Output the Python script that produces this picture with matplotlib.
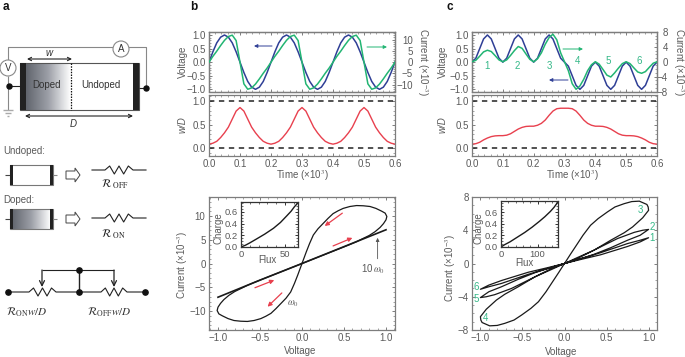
"""
memristor figure: device sketch (a) and simulated curves (b, c).
"""
import numpy as np
import matplotlib
matplotlib.use("Agg")
import matplotlib.pyplot as plt
from matplotlib.patches import Circle, Polygon, Rectangle

plt.rcParams["font.family"] = ["Liberation Sans", "DejaVu Sans"]
plt.rcParams["mathtext.fontset"] = "stix"

W, H = 685, 357
GREY = "#5a5a5a"
FRAME = "#7d7d7d"
BLUE = "#2f3f96"
GREEN = "#22b573"
RED = "#e8404e"
NUMC = "#35b888"

# ── Data ─────────────────────────────────────────────────────────────────────
time = [0.0, 0.0125, 0.025, 0.0375, 0.05, 0.0625, 0.075, 0.0875,
        0.1, 0.1125, 0.125, 0.1375, 0.15, 0.1625, 0.175, 0.1875,
        0.2, 0.2125, 0.225, 0.2375, 0.25, 0.2625, 0.275, 0.2875,
        0.3, 0.3125, 0.325, 0.3375, 0.35, 0.3625, 0.375, 0.3875,
        0.4, 0.4125, 0.425, 0.4375, 0.45, 0.4625, 0.475, 0.4875,
        0.5, 0.5125, 0.525, 0.5375, 0.55, 0.5625, 0.575, 0.5875, 0.6]

b_voltage = [0, .38, .71, .92, 1, .92, .71, .38,
             0, -.38, -.71, -.92, -1, -.92, -.71, -.38,
             0, .38, .71, .92, 1, .92, .71, .38,
             0, -.38, -.71, -.92, -1, -.92, -.71, -.38,
             0, .38, .71, .92, 1, .92, .71, .38,
             0, -.38, -.71, -.92, -1, -.92, -.71, -.38, 0]
b_current = [0, 2.6, 4.9, 7.4, 9.7, 11.4, 12, 9.6,
             0, -9.6, -12, -11.4, -9.7, -7.4, -4.9, -2.6,
             0, 2.6, 4.9, 7.4, 9.7, 11.4, 12, 9.6,
             0, -9.6, -12, -11.4, -9.7, -7.4, -4.9, -2.6,
             0, 2.6, 4.9, 7.4, 9.7, 11.4, 12, 9.6,
             0, -9.6, -12, -11.4, -9.7, -7.4, -4.9, -2.6, 0]
b_wd = [.09, .11, .15, .23, .33, .45, .62, .79,
        .865, .79, .62, .45, .33, .23, .15, .11,
        .09, .11, .15, .23, .33, .45, .62, .79,
        .865, .79, .62, .45, .33, .23, .15, .11,
        .09, .11, .15, .23, .33, .45, .62, .79,
        .865, .79, .62, .45, .33, .23, .15, .11, .09]

c_voltage = [0, .146, .5, .854, 1, .854, .5, .146,
             0, .146, .5, .854, 1, .854, .5, .146,
             0, .146, .5, .854, 1, .854, .5, .146,
             0, -.146, -.5, -.854, -1, -.854, -.5, -.146,
             0, -.146, -.5, -.854, -1, -.854, -.5, -.146,
             0, -.146, -.5, -.854, -1, -.854, -.5, -.146, 0]
c_current = [0, .4, 1.5, 2.65, 3.1, 2.75, 1.65, .5,
             0, .5, 1.7, 3.0, 4.1, 3.6, 2.1, .65,
             0, .8, 2.4, 4.7, 6.5, 7.4, 5.9, 2.4,
             0, -2.4, -5.9, -7.4, -6.5, -4.7, -2.4, -.8,
             0, -.65, -2.1, -3.6, -4.1, -3.0, -1.7, -.5,
             0, -.5, -1.65, -2.75, -3.1, -2.65, -1.5, -.4, 0]
c_wd = [.09, .10, .13, .18, .22, .25, .265, .27,
        .27, .28, .31, .36, .41, .445, .465, .47,
        .47, .49, .53, .60, .70, .79, .84, .85,
        .85, .85, .84, .79, .70, .60, .53, .49,
        .47, .47, .465, .445, .41, .36, .31, .28,
        .27, .27, .265, .25, .22, .18, .13, .10, .09]

# I-V loop at w0 (panel b)
b_loop_v = [0, .1, .2, .3, .4, .5, .57, .65, .73, .8, .87, .93, .97, 1.0, 1.01, .99, .95, .88, .81, .73, .65,
            .57, .49, .43, .37, .31, .25, .19, .135, .09, .05, 0,
            -.1, -.2, -.3, -.4, -.5, -.57, -.65, -.73, -.8, -.87, -.93, -.97, -1.0, -1.01, -.99, -.95, -.88, -.81, -.73, -.65,
            -.57, -.49, -.43, -.37, -.31, -.25, -.19, -.135, -.09, -.05, 0]
b_loop_i = [0, .7, 1.4, 2.1, 2.8, 3.5, 4.0, 4.6, 5.3, 5.9, 6.7, 7.6, 8.4, 9.2, 9.9, 10.6, 11.0, 11.6, 12.0, 12.15, 12.2,
            12.0, 11.6, 11.1, 10.5, 9.5, 8.4, 7.3, 6.0, 4.2, 2.4, 0,
            -.7, -1.4, -2.1, -2.8, -3.5, -4.0, -4.6, -5.3, -5.9, -6.7, -7.6, -8.4, -9.2, -9.9, -10.6, -11.0, -11.6, -12.0, -12.15, -12.2,
            -12.0, -11.6, -11.1, -10.5, -9.5, -8.4, -7.3, -6.0, -4.2, -2.4, 0]
# I-V at 10 w0, closes almost to a line
b_fast_v = [-1.0, -.5, 0, .5, 1.0]
b_fast_i = [-7.1, -3.5, 0, 3.55, 7.1]

# I-V loop with the six lobes (panel c), positive half then negative half
c_pos_v = [0, .2, .43, .75, .9, 1, .9, .75, .43, .2, 0,
           .2, .35, .55, .75, .9, 1, .93, .83, .63, .35, .15, 0,
           .155, .35, .55, .71, .81, .93, 1, .995, .98, .89, .8, .71, .6, .51, .4, .31, .22, .155, .07, 0]
c_pos_i = [0, .5, 1.05, 2.05, 2.6, 3.1, 2.8, 2.4, 1.3, .6, 0,
           .6, 1.1, 1.9, 2.8, 3.4, 4.1, 4.0, 3.75, 3.0, 1.6, .7, 0,
           .6, 1.6, 2.8, 3.7, 4.4, 5.5, 6.4, 6.8, 7.1, 7.5, 7.45, 7.2, 6.8, 6.2, 5.4, 4.6, 3.4, 2.4, 1.1, 0]
c_neg_v = [0, -.2, -.43, -.75, -.9, -1, -.9, -.75, -.43, -.2, 0,
           -.2, -.35, -.55, -.75, -.9, -1, -.93, -.83, -.63, -.35, -.15, 0,
           -.155, -.35, -.55, -.71, -.81, -.93, -1, -.995, -.98, -.89, -.8, -.71, -.6, -.51, -.4, -.31, -.22, -.155, -.07, 0]
c_neg_i = [0, -.5, -1.05, -2.05, -2.6, -3.1, -2.8, -2.4, -1.3, -.6, 0,
           -.6, -1.1, -1.9, -2.8, -3.4, -4.1, -4.0, -3.75, -3.0, -1.6, -.7, 0,
           -.6, -1.6, -2.8, -3.7, -4.4, -5.5, -6.4, -6.8, -7.1, -7.5, -7.45, -7.2, -6.8, -6.2, -5.4, -4.6, -3.4, -2.4, -1.1, 0]

# charge-flux insets
b_flux = [0, 5, 10, 18, 27, 37, 45, 52, 57, 61, 64, 65]
b_charge = [0, .03, .07, .14, .22, .32, .42, .53, .61, .69, .74, .77]
c_flux = [0, 10, 25, 45, 65, 85, 105, 120, 135, 145, 152, 156]
c_charge = [0, .04, .09, .17, .25, .34, .44, .52, .61, .68, .74, .79]

b_left_ticks = [-1.0, -0.5, 0.0, 0.5, 1.0]
b_right_ticks = [-10, -5, 0, 5, 10]
c_right_ticks = [-8, -4, 0, 4, 8]
time_ticks = [0.0, 0.1, 0.2, 0.3, 0.4, 0.5, 0.6]
wd_ticks = [0.0, 0.5, 1.0]
volt_ticks = [-1.0, -0.5, 0.0, 0.5, 1.0]


def fmt(v, nd=1):
    return f"{v:.{nd}f}".replace("-", "\u2212")


def px_axes(l, t, r, b):
    return fig.add_axes([l / W, 1 - b / H, (r - l) / W, (b - t) / H])


def style(ax, color=FRAME, size=7):
    for s in ax.spines.values():
        s.set_color(color)
        s.set_linewidth(0.9)
    ax.minorticks_on()
    ax.tick_params(which="major", direction="in", top=True, bottom=True, left=True, right=True,
                   length=2.2, width=0.7, color=color, labelsize=size, labelcolor=GREY, pad=2.5)
    ax.tick_params(which="minor", direction="in", top=True, bottom=True, left=True, right=True,
                   length=1.1, width=0.5, color=color)


fig = plt.figure(figsize=(W / 100, H / 100), dpi=100)


def time_panels(l, r, volts, amps, ylim_r, wd, rticks, rpad):
    top = px_axes(l, 32, r, 91.5)
    style(top)
    top.plot(time, volts, color=BLUE, lw=1.1, zorder=3)
    top.set_xlim(0, 0.6)
    top.set_ylim(-1.08, 1.11)
    top.set_xticks(time_ticks)
    top.set_yticks(b_left_ticks)
    top.set_yticklabels([fmt(v) for v in b_left_ticks])
    top.tick_params(labelbottom=False, right=False, which="both")
    right = top.twinx()
    style(right)
    right.plot(time, amps, color=GREEN, lw=1.1, zorder=4)
    right.set_ylim(*ylim_r)
    right.set_yticks(rticks)
    right.set_yticklabels([fmt(v, 0) for v in rticks], ha="right")
    right.tick_params(left=False, top=False, bottom=False, which="both")
    right.tick_params(axis="y", pad=rpad)

    bot = px_axes(l, 95, r, 155.5)
    style(bot)
    bot.plot(time, wd, color=RED, lw=1.0)
    bot.axhline(1.0, color="#222222", lw=1.1, ls=(0, (3.5, 3)))
    bot.axhline(0.0, color="#222222", lw=1.1, ls=(0, (3.5, 3)))
    bot.set_xlim(0, 0.6)
    bot.set_ylim(-0.15, 1.13)
    bot.set_xticks(time_ticks)
    bot.set_xticklabels([fmt(v) for v in time_ticks])
    bot.set_yticks(wd_ticks)
    bot.set_yticklabels([fmt(v) for v in wd_ticks])


def inset(l, t, r, b, flux, charge, xlim, ylim, xticks):
    ax = px_axes(l, t, r, b)
    style(ax, color="#333333")
    ax.plot(flux, charge, color="#1a1a1a", lw=1.0)
    ax.set_xlim(*xlim)
    ax.set_ylim(*ylim)
    ax.set_xticks(xticks)
    ax.set_yticks([0.0, 0.2, 0.4, 0.6])
    ax.set_yticklabels(["0.0", "0.2", "0.4", "0.6"])
    ax.tick_params(labelsize=6.8, pad=2)
    ax.set_facecolor("white")


# ── Panels b and c, time traces ──────────────────────────────────────────────
time_panels(209, 395, b_voltage, b_current, (-13.0, 13.4), b_wd, b_right_ticks, 13)
time_panels(472, 657, c_voltage, c_current, (-7.9, 8.0), c_wd, c_right_ticks, 8)

# ── Panel b, I-V ─────────────────────────────────────────────────────────────
ax = px_axes(209, 197, 395, 330)
style(ax)
ax.plot(b_loop_v, b_loop_i, color="#1a1a1a", lw=0.9)
ax.plot(b_fast_v, b_fast_i, color="#1a1a1a", lw=1.2)
ax.set_xlim(-1.107, 1.107)
ax.set_ylim(-14, 14)
ax.set_xticks(volt_ticks)
ax.set_xticklabels([fmt(v) for v in volt_ticks])
ax.set_yticks(b_right_ticks)
ax.set_yticklabels([fmt(v, 0) for v in b_right_ticks])
for start, end in [((.48, 10.6), (.27, 7.9)), ((.37, 3.7), (.6, 5.4)),
                   ((-.56, -5.1), (-.33, -3.5)), ((-.24, -6.2), (-.41, -9.1))]:
    ax.annotate("", xy=end, xytext=start,
                arrowprops=dict(arrowstyle="-|>", color=RED, lw=0.9, mutation_scale=6, shrinkA=0, shrinkB=0))
ax.annotate("", xy=(.9, 5.4), xytext=(.9, 1.0),
            arrowprops=dict(arrowstyle="-|>", color="#555555", lw=0.6, mutation_scale=5, shrinkA=0, shrinkB=0))
ax.text(.85, -1.2, r"10$\,\omega_0$", ha="center", va="center", fontsize=7, color=GREY)
ax.text(-.11, -8.5, r"$\omega_0$", ha="center", va="center", fontsize=7, color=GREY)
inset(241, 202, 298, 247, b_flux, b_charge, (0, 65), (0, 0.77), [0, 50])

# ── Panel c, I-V ─────────────────────────────────────────────────────────────
ax = px_axes(472, 197, 657, 330)
style(ax)
ax.plot(c_pos_v, c_pos_i, color="#1a1a1a", lw=0.9)
ax.plot(c_neg_v, c_neg_i, color="#1a1a1a", lw=0.9)
ax.set_xlim(-1.10, 1.10)
ax.set_ylim(-8, 8)
ax.set_xticks(volt_ticks)
ax.set_xticklabels([fmt(v) for v in volt_ticks])
ax.set_yticks(c_right_ticks)
ax.set_yticklabels([fmt(v, 0) for v in c_right_ticks])
inset(501, 201, 558, 247, c_flux, c_charge, (0, 156), (0, 0.79), [0, 100])

# ── Overlay in pixel coordinates: labels and the device sketch ───────────────
ov = fig.add_axes([0, 0, 1, 1], zorder=10)
ov.set_xlim(0, W)
ov.set_ylim(H, 0)
ov.axis("off")
ov.patch.set_alpha(0)


def label(x, y, s, size=7, color=GREY, rot=0, ha="center", **kw):
    ov.text(x, y, s, fontsize=size, color=color, rotation=rot, ha=ha, va="center", **kw)


def arrow(p0, p1, color, lw=0.7, style_="-|>", ms=5):
    ov.annotate("", xy=p1, xytext=p0,
                arrowprops=dict(arrowstyle=style_, color=color, lw=lw, mutation_scale=ms, shrinkA=0, shrinkB=0))


def wire(xs, ys, color="#444444", lw=0.8):
    ov.plot(xs, ys, color=color, lw=lw, solid_capstyle="butt")


def resistor(x0, x1, y, z0, z1, n=3):
    xs = [x0, z0]
    ys = [y, y]
    step = (z1 - z0) / (2 * n)
    for i in range(2 * n - 1):
        xs.append(z0 + step * (i + 1))
        ys.append(y - 4 if i % 2 == 0 else y + 4)
    xs += [z1, x1]
    ys += [y, y]
    ov.plot(xs, ys, color="#222222", lw=0.8)


def block_arrow(x0, x1, y0, y1):
    ym = (y0 + y1) / 2
    ov.add_patch(Polygon([(x0, y0 + 3), (x1 - 5, y0 + 3), (x1 - 5, y0), (x1, ym), (x1 - 5, y1),
                          (x1 - 5, y1 - 3), (x0, y1 - 3)], closed=True, fc="white", ec="#444444", lw=0.7))


def gradient(x0, x1, y0, y1):
    g = np.linspace(0, 1, 64).reshape(1, -1)
    ov.imshow(g, extent=(x0, x1, y1, y0), cmap=matplotlib.colors.LinearSegmentedColormap.from_list(
        "dop", ["#62666e", "#9da0a8", "#ffffff"]), aspect="auto", zorder=1)
    ov.set_xlim(0, W)
    ov.set_ylim(H, 0)


for x, s in [(3, "a"), (190, "b"), (447, "c")]:
    label(x, 7, s, size=8.5, color="#111111", ha="left", weight="bold")

# axis labels, b
label(183, 62, "Voltage", rot=90)
label(183, 125, "w/D", rot=90, style="italic")
label(183, 265, "Current (\u00d710$^{\u22123}$)", rot=90)
label(302, 176, "Time (\u00d710$^{3}$)")
label(300, 351, "Voltage")
label(267, 260, "Flux")
label(219, 228, "Charge", rot=90)
label(422, 62, "Current (\u00d710$^{\u22123}$)", rot=270)
# axis labels, c
label(443, 62, "Voltage", rot=90)
label(443, 125, "w/D", rot=90, style="italic")
label(451, 268, "Current (\u00d710$^{\u22123}$)", rot=90)
label(572, 176, "Time (\u00d710$^{3}$)")
label(561, 352, "Voltage")
label(524, 263, "Flux")
label(479, 228, "Charge", rot=90)
label(678, 62, "Current (\u00d710$^{\u22123}$)", rot=270)

# direction arrows on the traces
arrow((272, 46), (254, 46), BLUE)
arrow((367, 47), (387, 47), GREEN)
arrow((563, 49), (583, 49), GREEN)
arrow((568, 80), (549, 80), BLUE)

# lobe numbers
for x, y, s in [(487, 66, "1"), (517, 66, "2"), (549, 66, "3"), (578, 61, "4"), (608, 61, "5"), (639, 61, "6"),
                (640, 210, "3"), (652, 227, "2"), (652, 238, "1"), (476, 287, "6"), (476, 299, "5"), (486, 318, "4")]:
    label(x, y, s, color=NUMC)

# device
gradient(26, 71, 63, 110)
ov.add_patch(Rectangle((20, 63), 119, 47, fc="none", ec="#555555", lw=0.8, zorder=2))
ov.add_patch(Rectangle((20, 63), 6, 47, fc="#222222", ec="none", zorder=3))
ov.add_patch(Rectangle((133, 63), 6, 47, fc="#222222", ec="none", zorder=3))
wire([71, 71], [63, 110], color="#111111", lw=0.9)
ov.lines[-1].set_linestyle((0, (1.2, 1)))
wire([8, 8, 146, 146], [60, 47, 47, 88], color="#888888")
wire([8, 8], [76, 110], color="#888888")
wire([9, 20], [86, 86], color="#222222")
wire([139, 146], [88, 88], color="#222222")
ov.plot([9, 146], [86, 88], ls="none", marker="o", ms=3.6, color="#111111")
for xs, y in [((3, 13), 110), ((5, 11), 113), ((7, 9), 116)]:
    wire(xs, [y, y], color="#aaaaaa", lw=1.0)
for x, y, s in [(8, 68, "V"), (121, 49, "A")]:
    ov.add_patch(Circle((x, y), 8, fc="white", ec="#888888", lw=0.8, zorder=4))
    ov.text(x, y, s, fontsize=7, color="#333333", ha="center", va="center", zorder=5)
arrow((27, 59), (72, 59), "#222222", lw=0.8, style_="<->", ms=6)
arrow((25, 116), (133, 116), "#222222", lw=0.8, style_="<->", ms=6)
label(49, 53, "w", style="italic", color="#333333")
label(73, 124, "D", style="italic", color="#333333")
label(47, 85, "Doped", color="#333333", zorder=5)
label(101, 85, "Undoped", color="#333333", zorder=5)

# undoped / doped elements
label(3, 151, "Undoped:", ha="left")
label(3, 200, "Doped:", ha="left")
ov.add_patch(Rectangle((10, 165), 43, 20, fc="white", ec="#777777", lw=0.8, zorder=2))
gradient(12, 51, 209, 229)
ov.add_patch(Rectangle((10, 209), 43, 20, fc="none", ec="#777777", lw=0.8, zorder=2))
for y0 in (165, 209):
    ov.add_patch(Rectangle((10, y0), 3, 20, fc="#222222", ec="none", zorder=3))
    ov.add_patch(Rectangle((50, y0), 3, 20, fc="#222222", ec="none", zorder=3))
    wire([5, 10], [y0 + 10, y0 + 10])
    wire([53, 57], [y0 + 10, y0 + 10], color="#888888")
block_arrow(66, 80, 168, 182)
block_arrow(66, 80, 212, 226)
resistor(92, 146, 170, 105, 133)
resistor(92, 146, 218, 105, 133)
label(115, 184, r"$\mathcal{R}_{\mathrm{\ OFF}}$", size=8, color="#222222")
label(113, 234, r"$\mathcal{R}_{\mathrm{\ ON}}$", size=8, color="#222222")

# circuit
resistor(8, 79, 292, 29, 56)
resistor(79, 145, 292, 101, 127)
wire([79, 79], [270, 292], color="#222222", lw=1.0)
wire([42, 114], [270, 270], color="#222222")
ov.plot([8, 79, 79, 145], [292, 292, 270, 292], ls="none", marker="o", ms=3.8, color="#111111")
arrow((42, 270), (42, 287), "#222222", lw=0.9, style_="->", ms=9)
arrow((114, 270), (114, 287), "#222222", lw=0.9, style_="->", ms=9)
label(27, 312, r"$\mathcal{R}_{\mathrm{ON}}\mathit{w/D}$", size=8, color="#333333")
label(109, 312, r"$\mathcal{R}_{\mathrm{OFF}}\mathit{w/D}$", size=8, color="#333333")

fig.savefig("out.png", dpi=100)
plt.close()
